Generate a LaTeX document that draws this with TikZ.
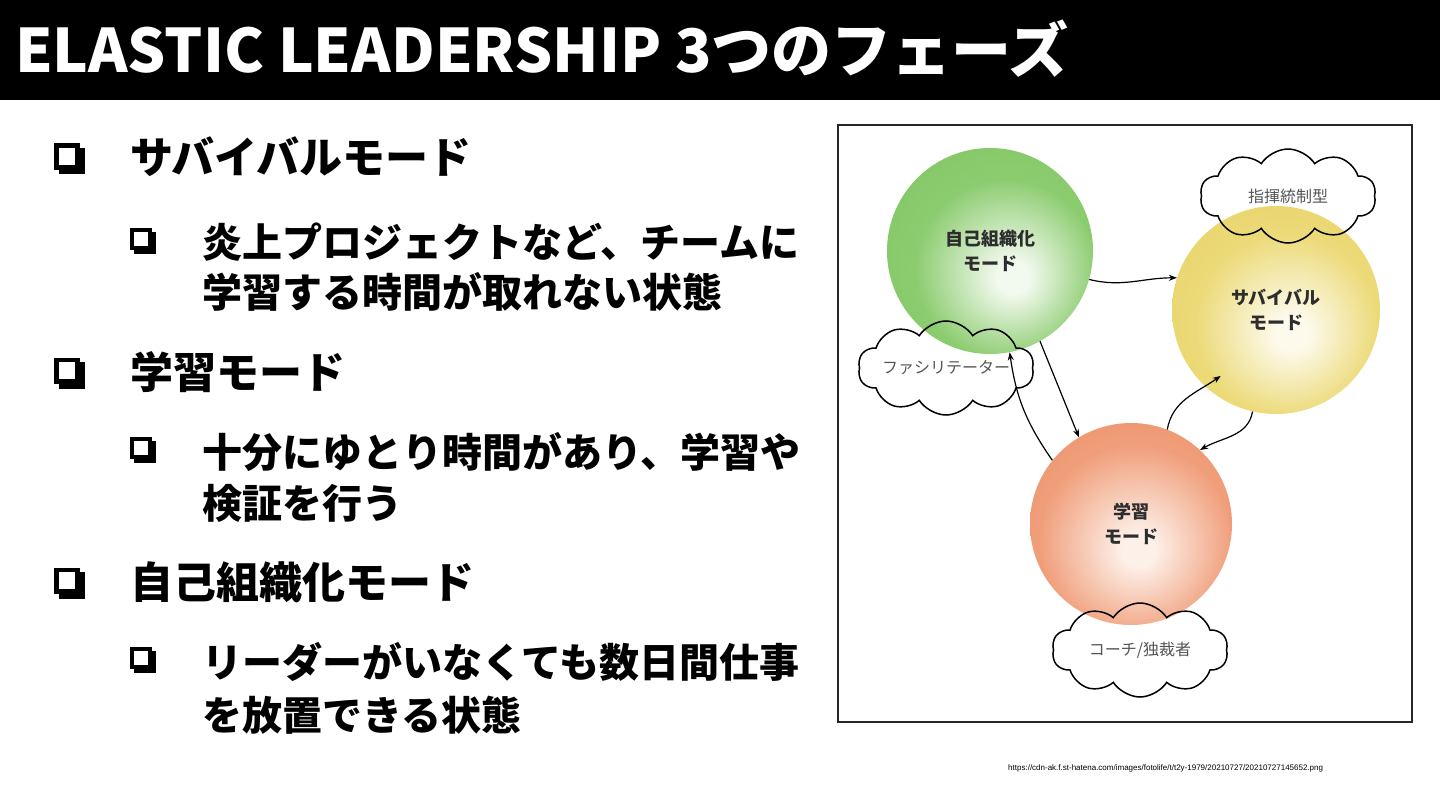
\documentclass[tikz,border=0pt]{standalone}
\usepackage{fontspec}
\setmainfont{Noto Sans CJK JP}
\newfontfamily\srcfont{Liberation Sans}
\usetikzlibrary{shapes.symbols,arrows.meta,calc}

\definecolor{gin}{RGB}{242,249,238}
\definecolor{gmid}{RGB}{140,204,112}
\definecolor{gout}{RGB}{124,195,94}
\definecolor{grim}{RGB}{104,180,74}
\definecolor{yin}{RGB}{253,250,236}
\definecolor{ymid}{RGB}{236,218,120}
\definecolor{yout}{RGB}{230,208,98}
\definecolor{yrim}{RGB}{220,192,70}
\definecolor{oin}{RGB}{253,240,233}
\definecolor{omid}{RGB}{240,158,122}
\definecolor{oout}{RGB}{234,140,100}
\definecolor{orim}{RGB}{226,118,80}
\definecolor{cloudtext}{RGB}{85,85,85}
\definecolor{balltext}{RGB}{45,45,45}

\pgfdeclareradialshading{ballg}{\pgfpoint{6bp}{-7bp}}{color(0bp)=(gin); color(4bp)=(gin); color(22bp)=(gmid); color(44bp)=(gout); color(62bp)=(grim)}
\pgfdeclareradialshading{bally}{\pgfpoint{4bp}{-6bp}}{color(0bp)=(yin); color(4bp)=(yin); color(22bp)=(ymid); color(44bp)=(yout); color(60bp)=(yrim)}
\pgfdeclareradialshading{ballo}{\pgfpoint{2bp}{-7bp}}{color(0bp)=(oin); color(4bp)=(oin); color(24bp)=(omid); color(44bp)=(oout); color(62bp)=(orim)}

\tikzset{
  ball/.style={circle, inner sep=0pt, align=center, text=balltext,
    font=\bfseries\fontsize{18}{25}\selectfont},
  puff/.style={cloud, draw=black, line width=1.5pt, cloud puffs=10, cloud puff arc=115,
    cloud ignores aspect, minimum width=176pt, minimum height=94pt, inner sep=0pt,
    text=cloudtext, font=\fontsize{16}{18}\selectfont},
  conn/.style={-{Stealth[length=8pt,width=6pt]}, line width=1.2pt, black},
  lone/.style={anchor=base west, inner sep=0pt, font=\bfseries\fontsize{43}{43}\selectfont},
  ltwo/.style={anchor=base west, inner sep=0pt, font=\bfseries\fontsize{40}{40}\selectfont},
  pics/qbox/.style={code={
    \fill[black] (-0.5,-0.5) rectangle (0.34,0.34);
    \fill[black] (-0.34,-0.34) rectangle (0.5,0.5);
    \fill[white] (-0.35,-0.35) rectangle (0.19,0.19);
  }}
}

\begin{document}
\begin{tikzpicture}[x=1pt,y=-1pt]
\useasboundingbox (0,0) rectangle (1440,810);
\fill[white] (0,0) rectangle (1440,810);

% title bar
\fill[black] (0,0) rectangle (1440,100);
\node[anchor=base west, inner sep=0pt, text=white, font=\bfseries\fontsize{60}{60}\selectfont] (title) at (15,73) {ELASTIC LEADERSHIP 3つのフェーズ};

% bullets
\pic[scale=31] at (69.5,159) {qbox};
\pic[scale=26] at (143,241) {qbox};
\pic[scale=31] at (69.5,373) {qbox};
\pic[scale=26] at (143,450) {qbox};
\pic[scale=31] at (69.5,583) {qbox};
\pic[scale=26] at (143,660) {qbox};

\node[lone] (s1) at (130,174) {サバイバルモード};
\node[ltwo] (s1a) at (202,258) {炎上プロジェクトなど、チームに};
\node[ltwo] (s1b) at (202,308) {学習する時間が取れない状態};
\node[lone] (s2) at (130,388) {学習モード};
\node[ltwo] (s2a) at (202,467) {十分にゆとり時間があり、学習や};
\node[ltwo] (s2b) at (202,518) {検証を行う};
\node[lone] (s3) at (130,598) {自己組織化モード};
\node[ltwo] (s3a) at (202,677) {リーダーがいなくても数日間仕事};
\node[ltwo] (s3b) at (202,730) {を放置できる状態};

% frame
\draw[line width=1.3pt, black!85] (838,125) rectangle (1412,722);

% balls
\node[ball, minimum size=206pt, shading=ballg] (g) at (990,251) {自己組織化\\モード};
\node[ball, minimum size=208pt, shading=bally] (y) at (1276,310) {サバイバル\\モード};
\node[ball, minimum size=202pt, shading=ballo] (o) at (1131,524) {学習\\モード};

% clouds
\node[puff] (c1) at (1288,196) {指揮統制型};
\node[puff] (c2) at (946,368) {ファシリテーター};
\node[puff] (c3) at (1140,650) {コーチ/独裁者};

% connectors
\draw[conn] (g.-16) to[out=-14,in=180] (y.162);
\draw[conn] (g.-61) to[out=-68,in=112] (o.121);
\draw[conn] (o.141) to[out=125,in=-82] (g.-79);
\draw[conn] (o.69) to[out=80,in=215] ($(y.center)+(-130:86pt)$);
\draw[conn] (y.-103) to[out=-100,in=30] (o.47);

% source
\node[anchor=base west, inner sep=0pt, font=\srcfont\fontsize{8}{8}\selectfont] (src) at (1008,770) {https://cdn-ak.f.st-hatena.com/images/fotolife/t/t2y-1979/20210727/20210727145652.png};
\end{tikzpicture}
\end{document}
